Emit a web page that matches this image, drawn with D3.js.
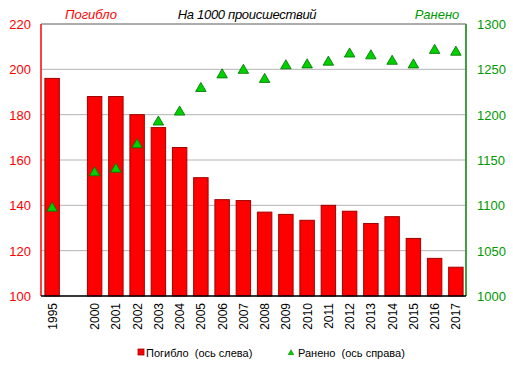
<!DOCTYPE html>
<html>
<head>
<meta charset="utf-8">
<script src="https://cdn.jsdelivr.net/npm/d3@7"></script>
<style>
  body { margin: 0; background: #fff; }
  svg { font-family: Arial, "Liberation Sans", sans-serif; }
</style>
</head>
<body>
<svg id="chart" width="513" height="372"></svg>
<script>
// categories (empty slot between 1995 and 2000)
const years = ["1995", "", "2000", "2001", "2002", "2003", "2004", "2005", "2006", "2007", "2008",
  "2009", "2010", "2011", "2012", "2013", "2014", "2015", "2016", "2017"];
const killed = [196, null, 188, 188, 180, 174.3, 165.5, 152.2, 142.5, 142.1, 137,
  136, 133.4, 140, 137.4, 132, 135, 125.4, 116.6, 112.7];
const injured = [1098, null, 1137, 1141, 1168, 1193, 1204, 1230, 1245, 1250, 1240,
  1255, 1256, 1259, 1268, 1266, 1260, 1256, 1272, 1270];
const leftTicks = [100, 120, 140, 160, 180, 200, 220];
const rightTicks = [1000, 1050, 1100, 1150, 1200, 1250, 1300];

const svg = d3.select("#chart");
const m = { left: 41, right: 466, top: 24, bottom: 296 };

const x = d3.scaleBand().domain(d3.range(years.length)).range([m.left, m.right]).paddingInner(0.32).paddingOuter(0.16);
const yL = d3.scaleLinear().domain([100, 220]).range([m.bottom, m.top]);
const yR = d3.scaleLinear().domain([1000, 1300]).range([m.bottom, m.top]);

// gridlines
svg.append("g").selectAll("line").data(leftTicks)
  .enter().append("line")
    .attr("x1", m.left).attr("x2", m.right)
    .attr("y1", d => yL(d)).attr("y2", d => yL(d))
    .attr("stroke", "#b4b4b4").attr("stroke-width", 1);

// bars
svg.append("g").selectAll("rect").data(killed.map((v, i) => ({ v, i })).filter(d => d.v != null))
  .enter().append("rect")
    .attr("x", d => x(d.i) + 0.5)
    .attr("width", x.bandwidth())
    .attr("y", d => yL(d.v))
    .attr("height", d => yL(100) - yL(d.v))
    .attr("fill", "#ff0000")
    .attr("stroke", "#a00000")
    .attr("stroke-width", 1);

// axes lines
svg.append("line").attr("x1", m.left).attr("x2", m.left).attr("y1", m.top).attr("y2", m.bottom)
  .attr("stroke", "#ff0000").attr("stroke-width", 1.5);
svg.append("line").attr("x1", m.right).attr("x2", m.right).attr("y1", m.top).attr("y2", m.bottom)
  .attr("stroke", "#008000").attr("stroke-width", 1.5);
svg.append("line").attr("x1", m.left).attr("x2", m.right).attr("y1", m.bottom).attr("y2", m.bottom)
  .attr("stroke", "#000").attr("stroke-width", 1.5);
svg.append("line").attr("x1", m.left).attr("x2", m.right).attr("y1", m.top).attr("y2", m.top)
  .attr("stroke", "#808080").attr("stroke-width", 1);

// triangles
const tri = d3.symbol().type(d3.symbolTriangle).size(48);
svg.append("g").selectAll("path").data(injured.map((v, i) => ({ v, i })).filter(d => d.v != null))
  .enter().append("path")
    .attr("d", tri)
    .attr("transform", d => "translate(" + (x(d.i) + x.bandwidth() / 2 + 0.5) + "," + (yR(d.v) + 1) + ")")
    .attr("fill", "#00d000")
    .attr("stroke", "#007000")
    .attr("stroke-width", 0.8);

// left tick labels
svg.append("g").selectAll("text").data(leftTicks)
  .enter().append("text")
    .text(d => d)
    .attr("x", 31).attr("y", d => yL(d) + 5)
    .style("text-anchor", "end")
    .style("fill", "#ff0000")
    .style("font-size", "13px");

// right tick labels
svg.append("g").selectAll("text").data(rightTicks)
  .enter().append("text")
    .text(d => d)
    .attr("x", 477).attr("y", d => yR(d) + 5)
    .style("text-anchor", "start")
    .style("fill", "#009900")
    .style("font-size", "13px");

// x labels (rotated)
svg.append("g").selectAll("text").data(years.map((t, i) => ({ t, i })).filter(d => d.t))
  .enter().append("text")
    .text(d => d.t)
    .attr("transform", d => "translate(" + (x(d.i) + x.bandwidth() / 2 + 5) + ",303) rotate(-90)")
    .style("text-anchor", "end")
    .style("fill", "#000")
    .style("font-size", "12px");

// header texts
svg.append("text").text("Погибло").attr("x", 91).attr("y", 19)
  .style("text-anchor", "middle").style("font-style", "italic").style("fill", "#ff0000").style("font-size", "13px");
svg.append("text").text("На 1000 происшествий").attr("x", 247).attr("y", 19)
  .style("text-anchor", "middle").style("font-style", "italic").style("fill", "#000").style("font-size", "13px")
  .style("letter-spacing", "-0.3px");
svg.append("text").text("Ранено").attr("x", 437).attr("y", 19)
  .style("text-anchor", "middle").style("font-style", "italic").style("fill", "#009900").style("font-size", "13px");

// legend
svg.append("rect").attr("x", 138).attr("y", 349).attr("width", 6).attr("height", 6)
  .attr("fill", "#ff0000").attr("stroke", "#a00000").attr("stroke-width", 0.8);
svg.append("text").text("Погибло  (ось слева)").attr("x", 146).attr("y", 357)
  .style("font-size", "11px").style("fill", "#000").style("white-space", "pre");
svg.append("path").attr("d", d3.symbol().type(d3.symbolTriangle).size(14))
  .attr("transform", "translate(291,353)").attr("fill", "#00d000").attr("stroke", "#007000").attr("stroke-width", 0.5);
svg.append("text").text("Ранено  (ось справа)").attr("x", 298).attr("y", 357)
  .style("font-size", "11px").style("fill", "#000").style("white-space", "pre");
</script>
</body>
</html>
